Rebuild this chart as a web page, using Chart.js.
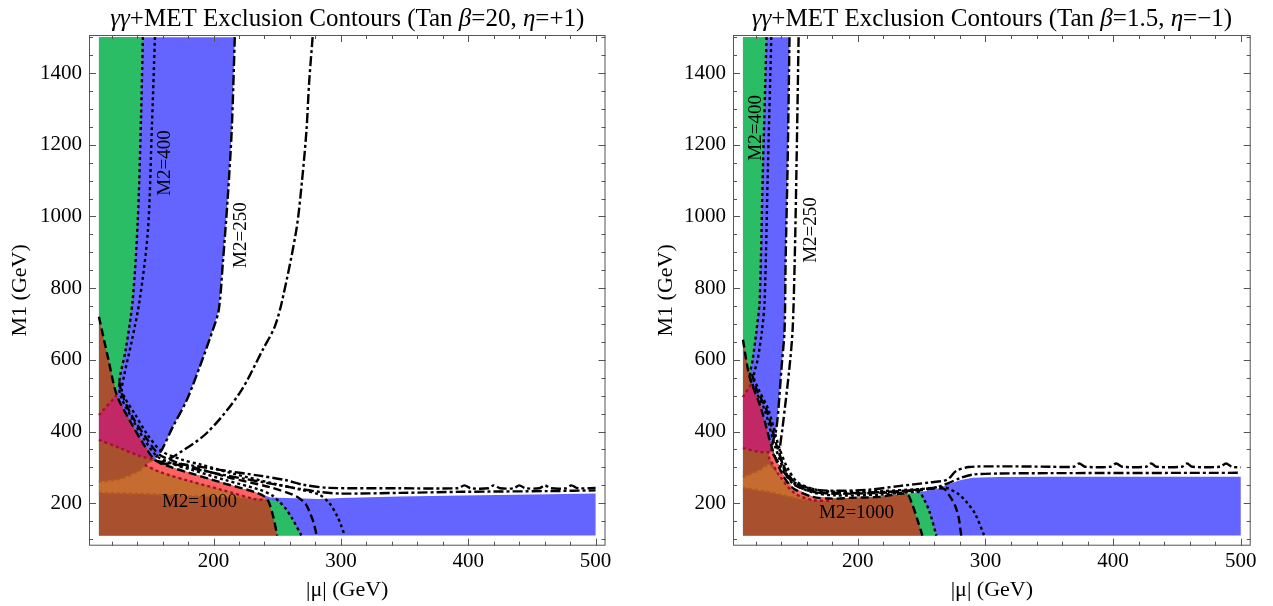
<!DOCTYPE html>
<html>
<head>
<meta charset="utf-8">
<script src="https://cdn.jsdelivr.net/npm/chart.js@4.4.1/dist/chart.umd.min.js"></script>
<style>
  html, body { margin: 0; padding: 0; background: #fff; overflow: hidden; }
  #wrap { position: relative; width: 1273px; height: 606px; }
  canvas { position: absolute; top: 0; }
</style>
</head>
<body>
<div id="wrap">
  <canvas id="leftChart" width="640" height="606" style="left:0px"></canvas>
  <canvas id="rightChart" width="633" height="606" style="left:640px"></canvas>
</div>
<script>
// axes: |mu| (GeV) and M1 (GeV)
const xMajor = [200, 300, 400, 500];
const yMajor = [200, 400, 600, 800, 1000, 1200, 1400];

// ---- Tan beta = 20, eta = +1 ---- points are [|mu|, M1]
const leftBrownEdge = [[110,720],[117,608],[124,502],[134,432],[144.5,368],[154,321],[168,299],[181,285],[207,257],[234,229],[242,212],[246.5,168],[250,110]];
const leftGreenEdge = [[144.5,1500],[143,1270],[140.5,990],[136.5,767],[131,628],[126,540],[127,500],[136,437],[146,376],[156,330],[170,307],[183,293],[209,265],[236,238],[246,222],[252,203],[256,188],[261.5,159],[269,110]];
const leftOuterDotted = [[154,1500],[151.5,1242],[148.5,962],[142,767],[136,656],[130,560],[128,515],[131,490],[138,450],[148,392],[159,346],[175,322],[190,308],[215,283],[245,257],[268,238],[283,224],[291,200],[297,165],[300,140],[303,110]];
const leftInnerDashed = [[126,540],[128,505],[136,443],[147,383],[157,337],[172,313],[186,299],[212,272],[244,245],[264,221],[272,200],[275.5,175],[278.5,147],[281,110]];
const leftBlueEdge = [[216.7,1500],[214.3,1242],[211.2,1055],[207.3,870],[204.1,739],[199.4,683],[189.2,581],[179,488],[168,413],[159.4,349],[154,321],[165,313],[180,300],[205,281],[240,258],[268,240],[285,231],[300,227],[346,229],[396,232],[464,234],[500,236]];
const leftOuterDashDot = [[277.8,1500],[275,1370],[273,1241],[269.5,1100],[265,962],[254,767],[248,692],[238.6,628],[220.6,508],[194.7,396],[168,329],[158,312],[173.5,310],[205,293],[236,277],[256,265],[270,252],[291,243],[346,242],[392,242],[397,250],[402,242],[416,242],[420,250],[425,242],[436,242],[440,250],[445,242],[456,242],[460,250],[465,242],[477,242],[481,250],[486,242],[500,243]];
const leftBlueTop = [[245,216],[283,212],[300,215],[346,219],[396,222],[464,225],[500,227]];
const leftRedTop = [[110,446],[124,502]];
const leftRedMid = [[110,377],[126.5,354],[142,332],[154,321]];
const leftRedLow = [[146,307],[158,287],[181,262],[207,237],[232,212],[241,209]];
const leftOrangeTop = [[110,260],[126.5,268],[142,291],[146,305]];
const leftOrangeLow = [[110,229],[142,226],[181,220],[221,215],[241,209]];
const leftNotes = [['M2=400', 162, 1149, true], ['M2=250', 221.4, 948, true], ['M2=1000', 189, 204, false]];
const leftTitle = [['γγ', 1], ['+MET Exclusion Contours (Tan ', 0], ['β', 1], ['=20, ', 0], ['η', 1], ['=+1)', 0]];

// ---- Tan beta = 1.5, eta = -1 ----
const rightBrownEdge = [[110,656],[115.2,553],[124.6,460],[132.5,357],[140.3,285],[148.9,243],[164.5,218],[180.2,213],[193.4,215],[216.9,218],[238.1,226],[242.8,195],[246.7,154],[250.6,110]];
const rightGreenEdge = [[128.5,1500],[125.4,1101],[123.1,767],[120.7,684],[117.6,600],[115.5,553],[119,520],[127,460],[135,360],[142.5,292],[151,252],[166,229],[182,222],[217,224],[238,230],[248,231],[252,210],[256,178],[261.6,110]];
const rightOuterDotted = [[132.2,1500],[129.3,1101],[127,767],[125,684],[121.5,600],[118.5,553],[122,520],[130,460],[138,360],[145,298],[153,258],[168,237],[184,232],[218,234],[250,240],[268,244],[279,225],[286,200],[292,170],[299,110]];
const rightInnerDashed = [[117,560],[121,515],[128.5,460],[136.5,360],[143.5,293],[152,254],[167,232],[183,227],[217,229],[248,236],[267,241],[272,220],[276,195],[279,160],[281,110]];
const rightBlueEdge = [[146.5,1500],[145,1148],[143.4,870],[142.6,684],[140.3,581],[136.4,413],[132.5,349],[137,318],[143,282],[150,252],[165,232],[182,228],[217,231],[240,236],[262,245],[270,255],[280,270],[290,280],[311,283],[350,284],[500,285]];
const rightOuterDashDot = [[153.6,1500],[152,1150],[150.5,870],[148.9,684],[146.5,581],[141.1,413],[138.7,341],[140,320],[146.5,268],[162,242],[178,235],[209,238],[232,248],[256,258],[270,266],[277,290],[287,301],[311,303],[350,302],[369,302],[373.5,311],[378,302],[398,302],[402.5,311],[407,302],[426,302],[430,311],[434,302],[454,302],[458,311],[462,302],[484,302],[488.5,311],[493,302],[500,300]];
const rightBlueTop = [[250,232],[262,240],[270,252],[280,264],[290,271],[311,273],[350,274],[400,274],[450,274],[500,274]];
const rightRedTop = [[110,496],[116.8,535]];
const rightRedMid = [[110,354],[123.1,343],[134,343]];
const rightRedLow = [[130,330],[139,275],[150.5,228],[164.5,209],[180.2,207]];
const rightOrangeTop = [[110,273],[123.1,293],[130,310]];
const rightOrangeLow = [[110,243],[133.2,229],[154.4,212],[180.2,205]];
const rightNotes = [['M2=400', 120, 1247, true], ['M2=250', 163.6, 962, true], ['M2=1000', 199, 173, false]];
const rightTitle = [['γγ', 1], ['+MET Exclusion Contours (Tan ', 0], ['β', 1], ['=1.5, ', 0], ['η', 1], ['=\u22121)', 0]];

const SERIF = '"Liberation Serif", "Times New Roman", Times, serif';
const BLUE = '#6464ff', GREEN = '#2bbd66', BROWN = '#a9502e', CRIMSON = '#c32866', PINK = '#ff6262', ORANGE = '#c76c30';
const DARKRED = '#a3102e', DARKORANGE = '#b05a1c';
const DASHED = [8, 4], DOTTED = [3, 3], DASHDOT = [10, 3, 3, 3];

const toXY = pts => pts.map(p => ({ x: p[0], y: p[1] }));

function fillSet(pts, color, order) {
  return { data: toXY(pts), fill: 'shape', backgroundColor: color, borderColor: 'rgba(0,0,0,0)',
           borderWidth: 0, pointRadius: 0, tension: 0, order: order };
}
function lineSet(pts, color, dash, order) {
  return { data: toXY(pts), fill: false, borderColor: color, borderWidth: 2.4, borderDash: dash,
           pointRadius: 0, tension: 0.3, order: order };
}

// frame with inward ticks on all four sides
const framePlugin = {
  id: 'frame',
  afterDatasetsDraw(chart) {
    const { ctx, chartArea: a, scales } = chart;
    const sx = scales.x, sy = scales.y;
    ctx.save();
    ctx.strokeStyle = '#555';
    ctx.lineWidth = 1;
    ctx.strokeRect(a.left + 0.5, a.top + 0.5, a.right - a.left - 1, a.bottom - a.top - 1);
    ctx.beginPath();
    for (let v = 120; v <= 500; v += 20) {
      const len = xMajor.includes(v) ? 7 : 4;
      const px = Math.round(sx.getPixelForValue(v)) + 0.5;
      ctx.moveTo(px, a.bottom); ctx.lineTo(px, a.bottom - len);
      ctx.moveTo(px, a.top); ctx.lineTo(px, a.top + len);
    }
    for (let v = 100; v <= 1500; v += 50) {
      const len = yMajor.includes(v) ? 7 : 4;
      const py = Math.round(sy.getPixelForValue(v)) + 0.5;
      ctx.moveTo(a.left, py); ctx.lineTo(a.left + len, py);
      ctx.moveTo(a.right, py); ctx.lineTo(a.right - len, py);
    }
    ctx.stroke();
    ctx.restore();
  }
};

// contour labels
const notesPlugin = {
  id: 'notes',
  afterDatasetsDraw(chart, args, opts) {
    const { ctx, scales } = chart;
    ctx.save();
    ctx.fillStyle = '#000';
    ctx.font = '19px ' + SERIF;
    ctx.textAlign = 'center';
    ctx.textBaseline = 'middle';
    opts.items.forEach(([txt, mx, my, vertical]) => {
      ctx.save();
      ctx.translate(scales.x.getPixelForValue(mx), scales.y.getPixelForValue(my));
      if (vertical) ctx.rotate(-Math.PI / 2);
      ctx.fillText(txt, 0, 0);
      ctx.restore();
    });
    ctx.restore();
  }
};

// title with italic greek letters
const titlePlugin = {
  id: 'richTitle',
  afterDraw(chart, args, opts) {
    const { ctx, chartArea: a } = chart;
    const fontFor = it => (it ? 'italic ' : '') + opts.size + 'px ' + SERIF;
    ctx.save();
    ctx.fillStyle = '#000';
    ctx.textBaseline = 'alphabetic';
    ctx.textAlign = 'left';
    const parts = opts.parts.map(([t, it]) => {
      ctx.font = fontFor(it);
      return { t, it, w: ctx.measureText(t).width };
    });
    const total = parts.reduce((s, p) => s + p.w, 0);
    let x = (a.left + a.right) / 2 - total / 2;
    parts.forEach(p => {
      ctx.font = fontFor(p.it);
      ctx.fillText(p.t, x, opts.baseline);
      x += p.w;
    });
    ctx.restore();
  }
};

function makePanel(id, d) {
  const datasets = [
    fillSet(d.blueFill, BLUE, 20),
    fillSet(d.greenFill, GREEN, 19),
    fillSet(d.brownFill, BROWN, 18),
    fillSet(d.crimsonFill, CRIMSON, 17),
    fillSet(d.pinkFill, PINK, 16),
    fillSet(d.orangeFill, ORANGE, 15),
    lineSet(d.redTop, DARKRED, DOTTED, 8),
    lineSet(d.redMid, DARKRED, DOTTED, 8),
    lineSet(d.redLow, DARKRED, DOTTED, 8),
    lineSet(d.orangeTop, DARKORANGE, DOTTED, 8),
    lineSet(d.orangeLow, DARKORANGE, DOTTED, 8),
    lineSet(d.outerDashDot, '#000', DASHDOT, 5),
    lineSet(d.blueEdge, '#000', DASHDOT, 4),
    lineSet(d.outerDotted, '#000', DOTTED, 3),
    lineSet(d.innerDashed, '#000', DASHED, 3),
    lineSet(d.greenEdge, '#000', DOTTED, 2),
    lineSet(d.brownEdge, '#000', DASHED, 1)
  ];

  return new Chart(document.getElementById(id), {
    type: 'line',
    data: { datasets },
    plugins: [framePlugin, notesPlugin, titlePlugin],
    options: {
      responsive: false,
      animation: false,
      devicePixelRatio: 1,
      events: [],
      layout: { padding: { left: 0, right: d.padRight, top: 35, bottom: 0 } },
      plugins: {
        legend: { display: false },
        tooltip: { enabled: false },
        notes: { items: d.notes },
        richTitle: { parts: d.title, size: 25, baseline: 26 }
      },
      scales: {
        x: {
          type: 'linear', min: 102.2, max: 507.8,
          afterBuildTicks: s => { s.ticks = xMajor.map(v => ({ value: v })); },
          afterFit: s => { s.height = 60.3; },
          grid: { display: false, drawTicks: false },
          border: { display: false },
          ticks: { font: { family: SERIF, size: 21 }, color: '#000', padding: 3,
                   maxRotation: 0, autoSkip: false, callback: v => String(v) },
          title: { display: true, text: '|μ| (GeV)', color: '#000',
                   font: { family: SERIF, size: 22 }, padding: { top: 0, bottom: 3 } }
        },
        y: {
          type: 'linear', min: 81.7, max: 1506,
          afterBuildTicks: s => { s.ticks = yMajor.map(v => ({ value: v })); },
          afterFit: s => { s.width = d.axisWidth; },
          grid: { display: false, drawTicks: false },
          border: { display: false },
          ticks: { font: { family: SERIF, size: 21 }, color: '#000', padding: 7,
                   autoSkip: false, callback: v => String(v) },
          title: { display: true, text: 'M1 (GeV)', color: '#000',
                   font: { family: SERIF, size: 22 }, padding: { top: d.titlePad, bottom: 0 } }
        }
      }
    }
  });
}

makePanel('leftChart', {
  blueFill: [[110,1500], ...leftBlueEdge.slice(0, 11), ...leftBrownEdge.slice(6, 10), ...leftBlueTop, [500,110], [110,110]],
  greenFill: [[110,1500], ...leftGreenEdge.slice(0, 6), ...leftBrownEdge.slice(2, 11), ...leftGreenEdge.slice(15), [110,110]],
  brownFill: [...leftBrownEdge, [110,110]],
  crimsonFill: [...leftRedTop, ...leftBrownEdge.slice(3, 6), ...leftRedMid.slice(0, -1).reverse()],
  pinkFill: [...leftBrownEdge.slice(5, 10), [241,213], ...leftRedLow.slice().reverse()],
  orangeFill: [...leftOrangeTop, ...leftRedLow.slice(1), ...leftOrangeLow.slice(0, -1).reverse()],
  redTop: leftRedTop, redMid: leftRedMid, redLow: leftRedLow,
  orangeTop: leftOrangeTop, orangeLow: leftOrangeLow,
  outerDashDot: leftOuterDashDot, blueEdge: leftBlueEdge, outerDotted: leftOuterDotted,
  innerDashed: leftInnerDashed, greenEdge: leftGreenEdge, brownEdge: leftBrownEdge,
  notes: leftNotes, title: leftTitle,
  padRight: 34.5, axisWidth: 89, titlePad: 7
});

makePanel('rightChart', {
  blueFill: [[110,1500], ...rightBlueEdge.slice(0, 7), ...rightBrownEdge.slice(4, 11), ...rightBlueTop, [500,110], [110,110]],
  greenFill: [[110,1500], ...rightGreenEdge.slice(0, 6), ...rightBrownEdge.slice(2, 11), ...rightGreenEdge.slice(15), [110,110]],
  brownFill: [...rightBrownEdge, [110,110]],
  crimsonFill: [...rightRedTop, ...rightBrownEdge.slice(2, 4), ...rightRedMid.slice().reverse()],
  pinkFill: [...rightBrownEdge.slice(3, 8), ...rightRedLow.slice().reverse()],
  orangeFill: [...rightOrangeTop, ...rightRedLow.slice(1), ...rightOrangeLow.slice().reverse()],
  redTop: rightRedTop, redMid: rightRedMid, redLow: rightRedLow,
  orangeTop: rightOrangeTop, orangeLow: rightOrangeLow,
  outerDashDot: rightOuterDashDot, blueEdge: rightBlueEdge, outerDotted: rightOuterDotted,
  innerDashed: rightInnerDashed, greenEdge: rightGreenEdge, brownEdge: rightBrownEdge,
  notes: rightNotes, title: rightTitle,
  padRight: 22.3, axisWidth: 93, titlePad: 13.5
});
</script>
</body>
</html>
